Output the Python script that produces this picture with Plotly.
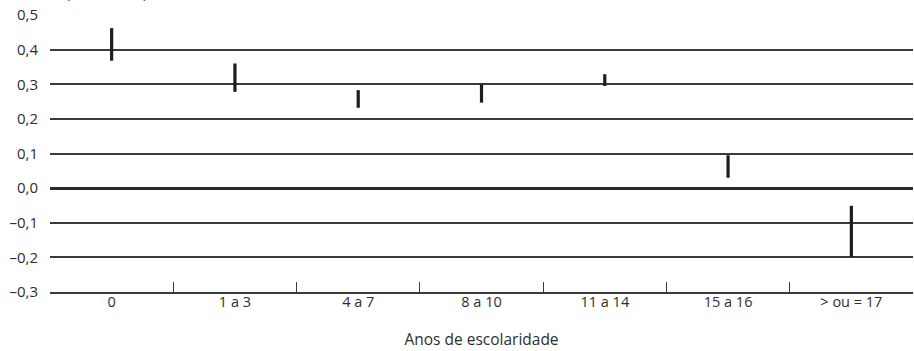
import plotly.graph_objects as go

categories = ["0", "1 a 3", "4 a 7", "8 a 10", "11 a 14", "15 a 16", "> ou = 17"]
low_values = [0.368, 0.278, 0.232, 0.247, 0.295, 0.030, -0.199]
high_values = [0.462, 0.360, 0.283, 0.300, 0.329, 0.095, -0.051]
y_tick_values = [-0.3, -0.2, -0.1, 0.0, 0.1, 0.2, 0.3, 0.4, 0.5]
y_tick_labels = ["–0,3", "–0,2", "–0,1", "0,0", "0,1", "0,2", "0,3", "0,4", "0,5"]

heights = [h - l for h, l in zip(high_values, low_values)]

fig = go.Figure()
fig.add_trace(go.Bar(
    x=categories, y=heights, base=low_values, width=0.026,
    marker=dict(color="#1e1e1e", line=dict(width=0)),
    hoverinfo="skip", showlegend=False,
))

fig.update_layout(
    width=914, height=351,
    margin=dict(l=50, r=1, t=15, b=59),
    paper_bgcolor="white", plot_bgcolor="white",
    font=dict(family="Open Sans", size=14, color="#2e2e2e"),
    showlegend=False,
    xaxis=dict(
        type="category", range=[-0.5, 6.5],
        showgrid=False, showline=True, linecolor="#3a3a3a", linewidth=1.5,
        ticks="inside", tickson="boundaries", ticklen=10, tickwidth=1.2, tickcolor="#3a3a3a",
        tickfont=dict(size=14.5), ticklabelstandoff=-4,
        title=dict(text="Anos de escolaridade", font=dict(size=15.5), standoff=24),
        fixedrange=True,
    ),
    yaxis=dict(
        range=[-0.3, 0.5], tickvals=y_tick_values, ticktext=y_tick_labels,
        showgrid=True, gridcolor="#3a3a3a", gridwidth=1.5,
        zeroline=True, zerolinecolor="#2a2a2a", zerolinewidth=2.5,
        showline=False, ticks="", ticklabelstandoff=11,
        tickfont=dict(size=15),
        fixedrange=True,
    ),
    annotations=[dict(
        text="(Coeficiente)", xref="paper", yref="paper", x=0.0, y=1.0,
        xanchor="center", yanchor="bottom", yshift=11, xshift=56,
        showarrow=False, font=dict(size=14, color="#2e2e2e"),
    )],
)

fig.write_html("out.html")
